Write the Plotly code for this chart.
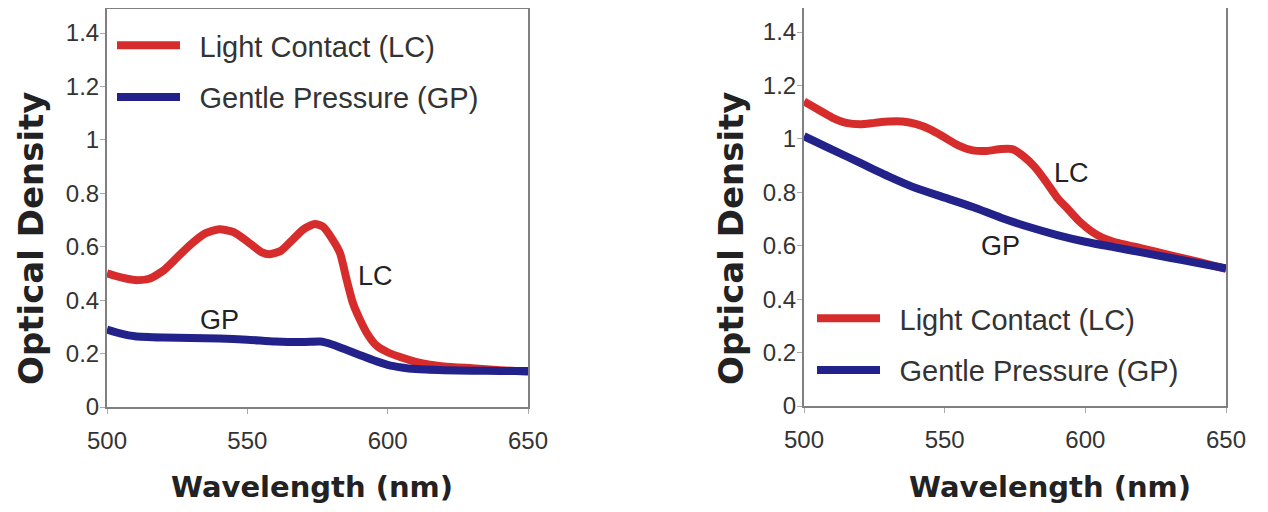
import plotly.graph_objects as go
from plotly.subplots import make_subplots

# ---- data ----
wl_left_lc = [500, 505, 510, 515, 520, 525, 530, 535, 540, 545, 550, 555, 558, 562, 566, 570, 574, 577,
              580.5, 583, 585.4, 587.6, 590, 592.6, 596, 600, 605, 610, 615, 620, 630, 640, 650]
od_left_lc = [0.50, 0.485, 0.475, 0.48, 0.51, 0.56, 0.61, 0.65, 0.665, 0.655, 0.62, 0.58, 0.572, 0.585,
              0.625, 0.665, 0.685, 0.675, 0.625, 0.577, 0.476, 0.39, 0.33, 0.277, 0.23, 0.205, 0.185,
              0.169, 0.158, 0.152, 0.145, 0.138, 0.132]

wl_left_gp = [500, 505, 510, 520, 530, 540, 550, 560, 570, 576, 580, 585, 590, 595, 600, 605, 610, 620,
              630, 640, 650]
od_left_gp = [0.29, 0.275, 0.265, 0.26, 0.258, 0.256, 0.252, 0.245, 0.243, 0.245, 0.235, 0.215, 0.195,
              0.175, 0.158, 0.148, 0.142, 0.138, 0.136, 0.135, 0.135]

wl_right_lc = [500, 505, 510, 515, 520, 525, 530, 535, 540, 545, 550, 555, 560, 565, 570, 574, 578, 582,
               586, 590, 594, 598, 602, 606, 610, 620, 630, 640, 650]
od_right_lc = [1.14, 1.11, 1.08, 1.06, 1.055, 1.06, 1.065, 1.065, 1.055, 1.035, 1.005, 0.975, 0.957,
               0.955, 0.962, 0.962, 0.935, 0.895, 0.84, 0.78, 0.735, 0.69, 0.655, 0.63, 0.615, 0.59,
               0.565, 0.54, 0.513]

wl_right_gp = [500, 510, 520, 530, 540, 550, 560, 570, 580, 590, 600, 610, 620, 630, 640, 650]
od_right_gp = [1.01, 0.96, 0.91, 0.86, 0.815, 0.78, 0.745, 0.705, 0.67, 0.64, 0.615, 0.595, 0.575,
               0.555, 0.535, 0.515]

series_names = ["Light Contact (LC)", "Gentle Pressure (GP)"]
x_ticks = [500, 550, 600, 650]
y_ticks = [0, 0.2, 0.4, 0.6, 0.8, 1, 1.2, 1.4]
y_tick_text = ["0", "0.2", "0.4", "0.6", "0.8", "1", "1.2", "1.4"]
x_title = "Wavelength (nm)"
y_title = "Optical Density"

RED = "rgb(214,44,44)"
BLUE = "rgb(34,34,138)"
OFF = 8                      # page body margin
FW, FH = 1268 - 2 * OFF, 512 - 2 * OFF


def px(x):
    return min(1.0, max(0.0, (x - OFF) / FW))


def py(y):
    return min(1.0, max(0.0, 1 - (y - OFF) / FH))


GAP = "\u2002"  # small gap between legend sample line and its text

fig = make_subplots(rows=1, cols=2)

fig.add_trace(go.Scatter(x=wl_left_lc, y=od_left_lc, mode="lines", name=GAP + series_names[0],
                         line=dict(color=RED, width=8, shape="spline", smoothing=0.6),
                         legend="legend", legendgroup="a"), row=1, col=1)
fig.add_trace(go.Scatter(x=wl_left_gp, y=od_left_gp, mode="lines", name=GAP + series_names[1],
                         line=dict(color=BLUE, width=8, shape="spline", smoothing=0.6),
                         legend="legend", legendgroup="b"), row=1, col=1)
fig.add_trace(go.Scatter(x=wl_right_lc, y=od_right_lc, mode="lines", name=GAP + series_names[0],
                         line=dict(color=RED, width=8, shape="spline", smoothing=0.6),
                         legend="legend2", legendgroup="c"), row=1, col=2)
fig.add_trace(go.Scatter(x=wl_right_gp, y=od_right_gp, mode="lines", name=GAP + series_names[1],
                         line=dict(color=BLUE, width=8, shape="spline", smoothing=0.6),
                         legend="legend2", legendgroup="d"), row=1, col=2)

tick_font = dict(family="Liberation Sans, Arial, sans-serif", size=24, color="#333333")
axis_common = dict(showgrid=False, zeroline=False, showline=True, linecolor="#808080", linewidth=2,
                   mirror=True, ticks="outside", ticklen=5, tickcolor="#aaaaaa", tickwidth=1,
                   tickfont=tick_font, automargin=False)

fig.update_xaxes(range=[500, 650], tickvals=x_ticks, ticktext=[str(v) for v in x_ticks],
                 ticklabelstandoff=6, **axis_common)
fig.update_yaxes(range=[0, 1.49], tickvals=y_ticks, ticktext=y_tick_text,
                 ticklabelstandoff=-4, **axis_common)

fig.update_layout(
    xaxis=dict(domain=[px(107), px(528)]),
    xaxis2=dict(domain=[px(804), px(1226)]),
    yaxis=dict(domain=[py(407), py(9)]),
    yaxis2=dict(domain=[py(406), py(8)]),
)

legend_common = dict(font=dict(family="Liberation Sans, Arial, sans-serif", size=29, color="#333333"),
                     bgcolor="rgba(0,0,0,0)", traceorder="grouped", tracegroupgap=11,
                     itemwidth=63, xanchor="left", yanchor="top")
fig.update_layout(
    legend=dict(x=px(112), y=py(20), **legend_common),
    legend2=dict(x=px(812), y=py(293), **legend_common),
)

# axis titles
xt_font = dict(family="DejaVu Sans, sans-serif", size=29, color="#222222")
yt_font = dict(family="DejaVu Sans, sans-serif", size=34, color="#222222")
for cx in (312, 1050):
    fig.add_annotation(x=px(cx), y=py(487), xref="paper", yref="paper", text="<b>%s</b>" % x_title,
                       showarrow=False, font=xt_font, xanchor="center", yanchor="middle")
for cx in (31, 731):
    fig.add_annotation(x=px(cx), y=py(238), xref="paper", yref="paper", text="<b>%s</b>" % y_title,
                       showarrow=False, font=yt_font, textangle=-90, xanchor="center", yanchor="middle")

ann_font = dict(family="Liberation Sans, Arial, sans-serif", size=27, color="#222222")
fig.add_annotation(x=595.5, y=0.49, xref="x", yref="y", text="LC", showarrow=False, font=ann_font)
fig.add_annotation(x=540, y=0.326, xref="x", yref="y", text="GP", showarrow=False, font=ann_font)
fig.add_annotation(x=595, y=0.873, xref="x2", yref="y2", text="LC", showarrow=False, font=ann_font)
fig.add_annotation(x=569.7, y=0.60, xref="x2", yref="y2", text="GP", showarrow=False, font=ann_font)

fig.update_layout(width=FW, height=FH, margin=dict(l=0, r=0, t=0, b=0),
                  paper_bgcolor="white", plot_bgcolor="white", showlegend=True)

fig.write_html("out.html")
